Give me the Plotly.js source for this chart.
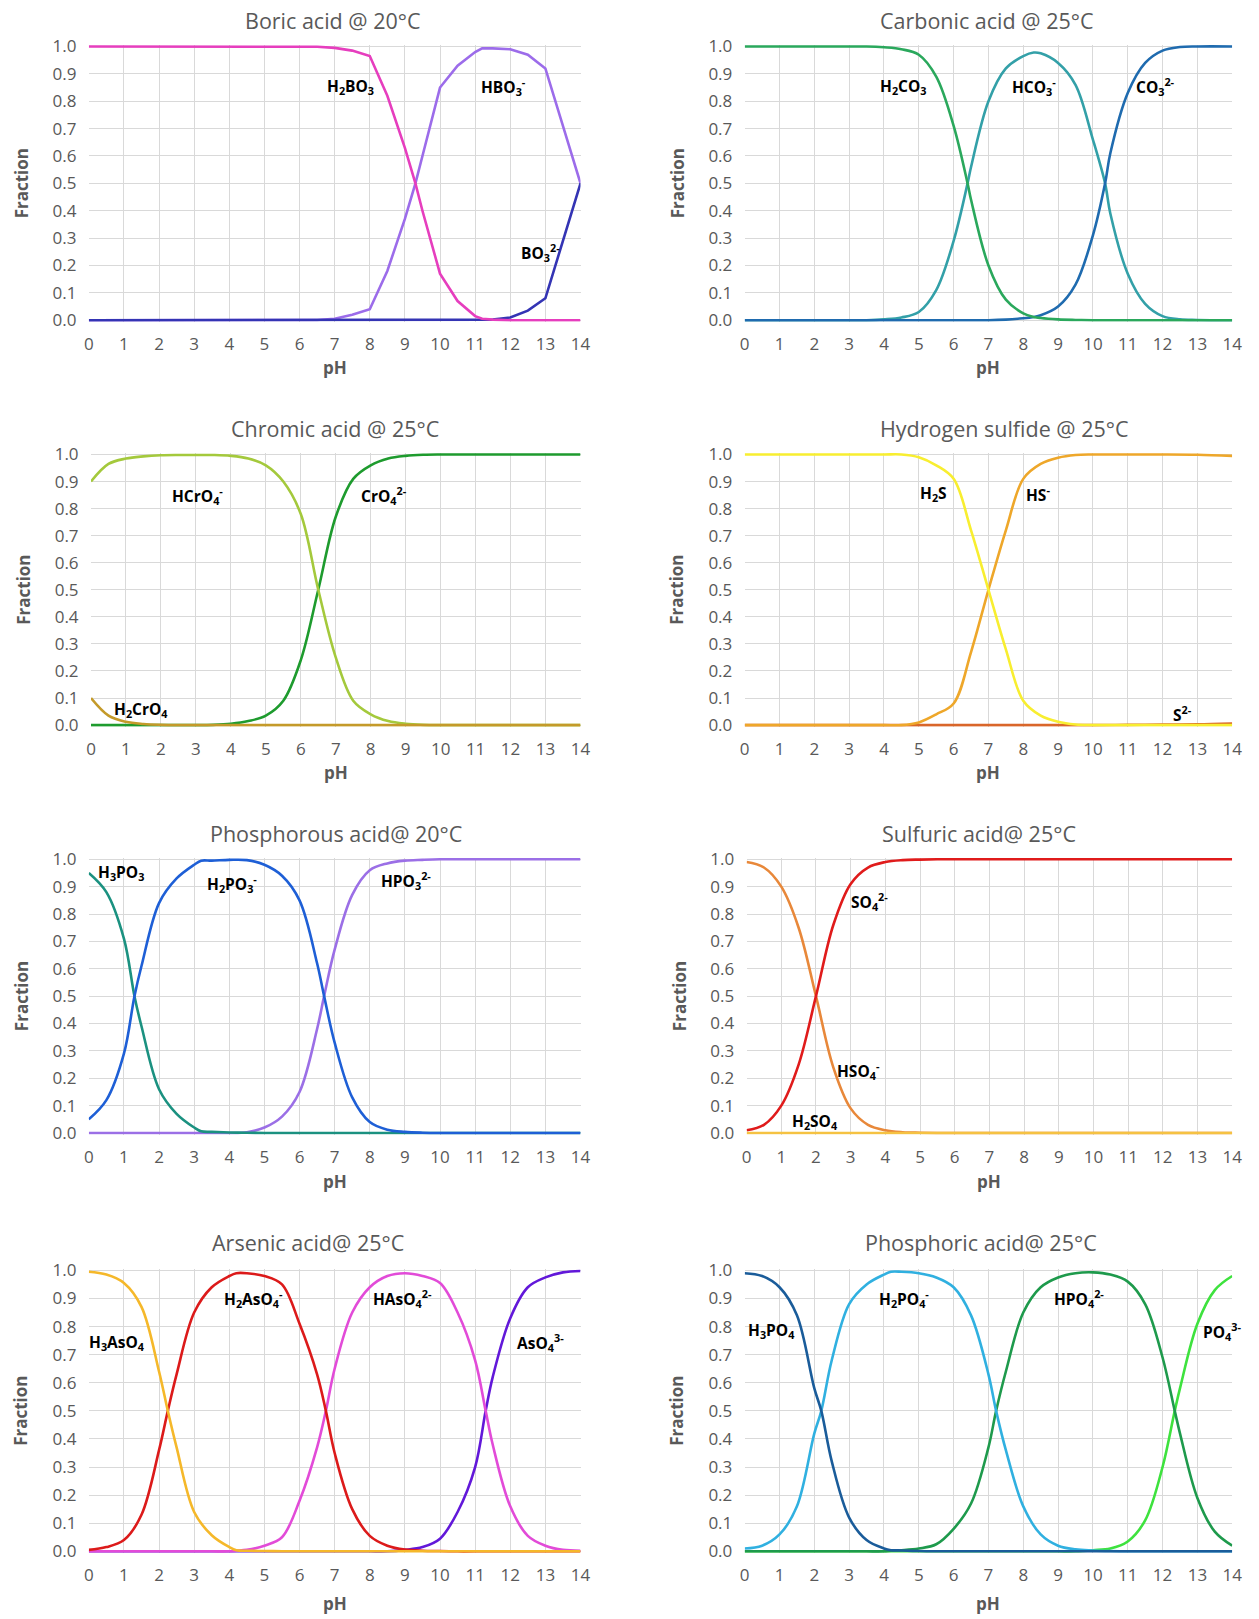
<!DOCTYPE html>
<html><head><meta charset="utf-8">
<script src="https://cdn.plot.ly/plotly-3.0.1.min.js"></script>
<style>html,body{margin:0;padding:0;background:#fff;overflow:hidden}#chart{width:1259px;height:1619px}</style>
</head><body><div id="chart"></div>
<script>
// ---------- DATA ----------
// Boric acid @ 20°C
const boricPH   = [0,1,2,3,4,5,6,6.5,7,7.5,8,8.5,9,9.3,9.5,10,10.5,11,11.2,11.5,12,12.5,13,13.5,14];
const boricH2BO3= [1,1,1,1,1,1,1,0.999,0.995,0.985,0.965,0.82,0.63,0.5,0.4,0.17,0.07,0.015,0.005,0.002,0,0,0,0,0];
const boricHBO3 = [0,0,0,0,0,0,0,0.001,0.005,0.02,0.04,0.18,0.37,0.5,0.6,0.85,0.93,0.98,0.993,0.993,0.99,0.97,0.92,0.71,0.5];
const boricBO3  = [0,0,0,0,0,0,0,0,0,0,0,0,0,0,0,0,0,0,0,0.002,0.01,0.035,0.08,0.29,0.5];

// Carbonic acid @ 25°C
const carbPH    = [0,1,2,3,3.5,4,4.5,5,5.5,6,6.4,6.5,7,7.5,8,8.3,8.5,9,9.5,10,10.35,10.5,11,11.5,12,12.5,13,14];
const carbH2CO3 = [1,1,1,1,1,0.997,0.99,0.97,0.89,0.71,0.5,0.44,0.2,0.075,0.025,0.012,0.008,0.003,0.001,0,0,0,0,0,0,0,0,0];
const carbHCO3  = [0,0,0,0,0,0.003,0.01,0.03,0.11,0.29,0.5,0.56,0.8,0.92,0.965,0.978,0.975,0.94,0.86,0.66,0.5,0.39,0.17,0.06,0.015,0.003,0.001,0];
const carbCO3   = [0,0,0,0,0,0,0,0,0,0,0,0,0,0.002,0.007,0.012,0.018,0.05,0.13,0.31,0.5,0.61,0.83,0.94,0.985,0.998,1,1];

// Chromic acid @ 25°C
const chromPH     = [0,0.5,1,1.5,2,2.5,3,3.5,4,4.5,5,5.5,6,6.5,7,7.5,8,8.5,9,9.5,10,11,12,13,14];
const chromHCrO4  = [0.90,0.965,0.985,0.993,0.997,0.998,0.998,0.998,0.995,0.985,0.96,0.9,0.78,0.5,0.25,0.09,0.04,0.015,0.005,0.001,0,0,0,0,0];
const chromCrO4   = [0,0,0,0,0,0,0,0.001,0.005,0.015,0.035,0.09,0.24,0.5,0.77,0.91,0.96,0.985,0.995,0.999,1,1,1,1,1];
const chromH2CrO4 = [0.10,0.035,0.012,0.004,0.001,0,0,0,0,0,0,0,0,0,0,0,0,0,0,0,0,0,0,0,0];

// Hydrogen sulfide @ 25°C
const h2sPH  = [0,1,2,3,4,4.5,5,5.5,6,6.5,7,7.5,8,8.5,9,9.5,10,11,12,13,14];
const h2sH2S = [1,1,1,1,1,1,0.99,0.96,0.91,0.72,0.5,0.28,0.09,0.035,0.012,0.002,0,0,0,0,0];
const h2sHS  = [0,0,0,0,0,0,0.01,0.04,0.08,0.27,0.5,0.72,0.91,0.965,0.988,0.998,1,1,1,0.999,0.995];
const h2sS   = [0,0,0,0,0,0,0,0,0,0,0,0,0,0,0,0,0,0.001,0.002,0.003,0.006];

// Phosphorous acid @ 20°C
const phosPH    = [0,0.5,1,1.3,1.5,2,2.5,3,3.2,3.5,4,4.5,5,5.5,6,6.5,6.7,7,7.5,8,8.5,9,9.5,10,11,12,13,14];
const phosH3PO3 = [0.95,0.88,0.71,0.5,0.39,0.16,0.07,0.02,0.006,0.004,0.002,0.001,0,0,0,0,0,0,0,0,0,0,0,0,0,0,0,0];
const phosH2PO3 = [0.05,0.12,0.29,0.5,0.61,0.84,0.93,0.98,0.995,0.995,0.998,0.997,0.98,0.94,0.85,0.62,0.5,0.33,0.13,0.04,0.012,0.004,0.001,0,0,0,0,0];
const phosHPO3  = [0,0,0,0,0,0,0,0,0,0,0,0.003,0.02,0.06,0.15,0.38,0.5,0.67,0.87,0.96,0.985,0.995,0.998,1,1,1,1,1];

// Sulfuric acid @ 25°C
const sulfPH    = [0,0.5,1,1.5,2,2.5,3,3.5,4,4.5,5,5.5,6,7,8,9,10,11,12,13,14];
const sulfHSO4  = [0.99,0.97,0.9,0.75,0.5,0.24,0.09,0.03,0.01,0.003,0.001,0,0,0,0,0,0,0,0,0,0];
const sulfSO4   = [0.01,0.03,0.1,0.25,0.5,0.76,0.91,0.97,0.99,0.997,0.999,1,1,1,1,1,1,1,1,1,1];
const sulfH2SO4 = [0,0,0,0,0,0,0,0,0,0,0,0,0,0,0,0,0,0,0,0,0];

// Arsenic acid @ 25°C
const arsPH     = [0,0.5,1,1.5,2,2.25,2.5,3,3.5,4,4.2,4.5,5,5.5,6,6.5,6.75,7,7.5,8,8.5,9,9.5,10,10.5,11,11.3,11.5,12,12.5,13,13.5,14];
const arsH3AsO4 = [0.995,0.985,0.955,0.87,0.64,0.5,0.37,0.14,0.057,0.015,0.004,0.002,0.001,0,0,0,0,0,0,0,0,0,0,0,0,0,0,0,0,0,0,0,0];
const arsH2AsO4 = [0.005,0.015,0.04,0.13,0.36,0.5,0.63,0.85,0.94,0.98,0.99,0.99,0.98,0.95,0.81,0.63,0.5,0.35,0.15,0.055,0.02,0.006,0.002,0.001,0,0,0,0,0,0,0,0,0];
const arsHAsO4  = [0,0,0,0,0,0,0,0,0,0,0.002,0.005,0.02,0.05,0.18,0.37,0.5,0.65,0.85,0.94,0.98,0.99,0.98,0.955,0.85,0.68,0.5,0.38,0.16,0.055,0.02,0.005,0.002];
const arsAsO4   = [0,0,0,0,0,0,0,0,0,0,0,0,0,0,0,0,0,0,0,0,0,0.005,0.015,0.045,0.14,0.3,0.5,0.62,0.83,0.94,0.975,0.993,0.998];

// Phosphoric acid @ 25°C
const phoPH    = [0,0.5,1,1.5,2,2.2,2.5,3,3.5,4,4.2,4.5,5,5.5,6,6.5,7,7.22,7.5,8,8.5,9,9.5,10,10.5,11,11.5,12,12.35,12.5,13,13.5,14];
const phoH3PO4 = [0.99,0.98,0.94,0.84,0.58,0.5,0.32,0.12,0.04,0.01,0.004,0.003,0.001,0,0,0,0,0,0,0,0,0,0,0,0,0,0,0,0,0,0,0,0];
const phoH2PO4 = [0.01,0.02,0.06,0.16,0.42,0.5,0.68,0.88,0.95,0.985,0.995,0.995,0.99,0.975,0.94,0.84,0.63,0.5,0.36,0.16,0.06,0.02,0.007,0.003,0.001,0,0,0,0,0,0,0,0];
const phoHPO4  = [0,0,0,0,0,0,0,0,0,0,0.002,0.004,0.01,0.025,0.08,0.17,0.37,0.5,0.64,0.85,0.94,0.975,0.99,0.993,0.985,0.96,0.88,0.69,0.5,0.42,0.19,0.07,0.02];
const phoPO4   = [0,0,0,0,0,0,0,0,0,0,0,0,0,0,0,0,0,0,0,0,0,0,0,0.004,0.01,0.035,0.11,0.3,0.5,0.58,0.81,0.93,0.98];

// Tick labels
const xTicks = [0,1,2,3,4,5,6,7,8,9,10,11,12,13,14];
const yTicks = [0,0.1,0.2,0.3,0.4,0.5,0.6,0.7,0.8,0.9,1.0];

// ---------- PANELS ----------
const W = 1259, H = 1619;
const panels = [
  { title:'Boric acid @ 20°C', tx:333, ty:20.7, xp:[88.8,580.5], yp:[46.5,320.2], fx:21, phy:367.7, shape:'linear',
    x:boricPH, series:[
      {name:'HBO3', y:boricHBO3, c:'#9C6CEA'},
      {name:'BO3', y:boricBO3, c:'#3434B4'},
      {name:'H2BO3', y:boricH2BO3, c:'#E63EBE'} ],
    labels:[['H<sub>2</sub>BO<sub>3</sub>',7.44,0.855],['HBO<sub>3</sub><sup>-</sup>',11.8,0.855],['BO<sub>3</sub><sup>2-</sup>',12.85,0.248]] },
  { title:'Carbonic acid @ 25°C', tx:987, ty:20.7, xp:[744.7,1232.2], yp:[46.5,320.2], fx:677, phy:367.7, shape:'spline',
    x:carbPH, series:[
      {name:'HCO3', y:carbHCO3, c:'#33A0A8'},
      {name:'CO3', y:carbCO3, c:'#1F6BAF'},
      {name:'H2CO3', y:carbH2CO3, c:'#2AA85C'} ],
    labels:[['H<sub>2</sub>CO<sub>3</sub>',4.57,0.853],['HCO<sub>3</sub><sup>-</sup>',8.31,0.853],['CO<sub>3</sub><sup>2-</sup>',11.8,0.853]] },
  { title:'Chromic acid @ 25°C', tx:335, ty:428.6, xp:[91,580.5], yp:[454.5,725.1], fx:24, phy:772.6, shape:'spline',
    x:chromPH, series:[
      {name:'CrO4', y:chromCrO4, c:'#1E9B2E'},
      {name:'HCrO4', y:chromHCrO4, c:'#A4C93C'},
      {name:'H2CrO4', y:chromH2CrO4, c:'#C49A2A'} ],
    labels:[['HCrO<sub>4</sub><sup>-</sup>',3.06,0.847],['CrO<sub>4</sub><sup>2-</sup>',8.38,0.847],['H<sub>2</sub>CrO<sub>4</sub>',1.44,0.057]] },
  { title:'Hydrogen sulfide @ 25°C', tx:1004, ty:428.6, xp:[744.7,1232.2], yp:[454.5,725.1], fx:677, phy:772.6, shape:'spline',
    x:h2sPH, series:[
      {name:'S', y:h2sS, c:'#D9662A'},
      {name:'HS', y:h2sHS, c:'#EEA72A'},
      {name:'H2S', y:h2sH2S, c:'#F8EE30'} ],
    labels:[['H<sub>2</sub>S',5.43,0.855],['HS<sup>-</sup>',8.42,0.855],['S<sup>2-</sup>',12.58,0.042]] },
  { title:'Phosphorous acid@ 20°C', tx:336, ty:833.5, xp:[88.8,580.5], yp:[859.3,1133], fx:21, phy:1181.6, shape:'spline',
    x:phosPH, series:[
      {name:'HPO3', y:phosHPO3, c:'#9B6FE6'},
      {name:'H3PO3', y:phosH3PO3, c:'#1B9180'},
      {name:'H2PO3', y:phosH2PO3, c:'#1E5FD6'} ],
    labels:[['H<sub>3</sub>PO<sub>3</sub>',0.91,0.951],['H<sub>2</sub>PO<sub>3</sub><sup>-</sup>',4.09,0.913],['HPO<sub>3</sub><sup>2-</sup>',9.03,0.921]] },
  { title:'Sulfuric acid@ 25°C', tx:979, ty:833.5, xp:[746.6,1232.2], yp:[859.3,1133], fx:679, phy:1181.6, shape:'spline',
    x:sulfPH, series:[
      {name:'HSO4', y:sulfHSO4, c:'#E8883A'},
      {name:'SO4', y:sulfSO4, c:'#E01B1B'},
      {name:'H2SO4', y:sulfH2SO4, c:'#F5C242'} ],
    labels:[['SO<sub>4</sub><sup>2-</sup>',3.53,0.845],['HSO<sub>4</sub><sup>-</sup>',3.23,0.227],['H<sub>2</sub>SO<sub>4</sub>',1.96,0.041]] },
  { title:'Arsenic acid@ 25°C', tx:308, ty:1242.5, xp:[88.8,580.5], yp:[1270.4,1551.3], fx:21, phy:1603, shape:'spline',
    x:arsPH, series:[
      {name:'AsO4', y:arsAsO4, c:'#6218D9'},
      {name:'HAsO4', y:arsHAsO4, c:'#E24BD8'},
      {name:'H2AsO4', y:arsH2AsO4, c:'#DC1A1A'},
      {name:'H3AsO4', y:arsH3AsO4, c:'#F5B82A'} ],
    labels:[['H<sub>3</sub>AsO<sub>4</sub>',0.79,0.743],['H<sub>2</sub>AsO<sub>4</sub><sup>-</sup>',4.68,0.90],['HAsO<sub>4</sub><sup>2-</sup>',8.94,0.90],['AsO<sub>4</sub><sup>3-</sup>',12.85,0.743]] },
  { title:'Phosphoric acid@ 25°C', tx:981, ty:1242.5, xp:[744.7,1232.2], yp:[1270.4,1551.3], fx:677, phy:1603, shape:'spline',
    x:phoPH, series:[
      {name:'PO4', y:phoPO4, c:'#3EE23E'},
      {name:'HPO4', y:phoHPO4, c:'#1E9A4C'},
      {name:'H2PO4', y:phoH2PO4, c:'#30B0E0'},
      {name:'H3PO4', y:phoH3PO4, c:'#1A5C9A'} ],
    labels:[['H<sub>3</sub>PO<sub>4</sub>',0.77,0.787],['H<sub>2</sub>PO<sub>4</sub><sup>-</sup>',4.57,0.90],['HPO<sub>4</sub><sup>2-</sup>',9.61,0.90],['PO<sub>4</sub><sup>3-</sup>',13.72,0.783]] }
];

const FONT = 'Open Sans, Liberation Sans, sans-serif';
const PAD = 0.006;
const traces = [], annotations = [];
const layout = { width:W, height:H, margin:{l:0,r:0,t:0,b:0}, showlegend:false,
  paper_bgcolor:'#fff', plot_bgcolor:'#fff', font:{family:FONT, color:'#595959'}, annotations };

panels.forEach((p, i) => {
  const n = i + 1, xa = 'xaxis' + (n > 1 ? n : ''), ya = 'yaxis' + (n > 1 ? n : '');
  const xr = 'x' + (n > 1 ? n : ''), yr = 'y' + (n > 1 ? n : '');
  const ppu = p.yp[1] - p.yp[0];
  const top = p.yp[0] - PAD * ppu, bot = p.yp[1] + PAD * ppu;
  layout[xa] = { domain:[p.xp[0]/W, p.xp[1]/W], anchor:yr, range:[0,14], tickvals:xTicks,
    showgrid:true, gridcolor:'#D9D9D9', gridwidth:1, zeroline:false, showline:false,
    ticks:'outside', ticklen:7, tickcolor:'rgba(0,0,0,0)', tickfont:{size:17, color:'#595959', family:FONT} };
  layout[ya] = { domain:[1 - bot/H, 1 - top/H], anchor:xr, range:[-PAD, 1+PAD], tickvals:yTicks, tickformat:'.1f',
    showgrid:true, gridcolor:'#D9D9D9', gridwidth:1, zeroline:false, showline:false,
    ticks:'outside', ticklen:8, tickcolor:'rgba(0,0,0,0)', tickfont:{size:17, color:'#595959', family:FONT} };
  p.series.forEach(s => traces.push({ type:'scatter', mode:'lines', x:p.x, y:s.y, name:s.name, xaxis:xr, yaxis:yr,
    line:{color:s.c, width:2.6, shape:p.shape, smoothing:1.0}, hoverinfo:'skip' }));
  p.labels.forEach(l => annotations.push({ xref:xr, yref:yr, x:l[1], y:l[2], text:l[0], showarrow:false,
    font:{family:FONT, size:15.5, color:'#000', weight:'bold'}, xanchor:'center', yanchor:'middle' }));
  annotations.push({ xref:'paper', yref:'paper', x:p.tx/W, y:1 - p.ty/H, text:p.title, showarrow:false,
    font:{family:FONT, size:21.5, color:'#595959'}, xanchor:'center', yanchor:'middle' });
  annotations.push({ xref:'paper', yref:'paper', x:p.fx/W, y:1 - ((p.yp[0]+p.yp[1])/2)/H, text:'Fraction', textangle:-90,
    showarrow:false, font:{family:FONT, size:17, color:'#595959', weight:'bold'}, xanchor:'center', yanchor:'middle' });
  annotations.push({ xref:'paper', yref:'paper', x:((p.xp[0]+p.xp[1])/2)/W, y:1 - p.phy/H, text:'pH',
    showarrow:false, font:{family:FONT, size:17, color:'#595959', weight:'bold'}, xanchor:'center', yanchor:'middle' });
});

Plotly.newPlot('chart', traces, layout, {staticPlot:true, displayModeBar:false});
</script></body></html>
